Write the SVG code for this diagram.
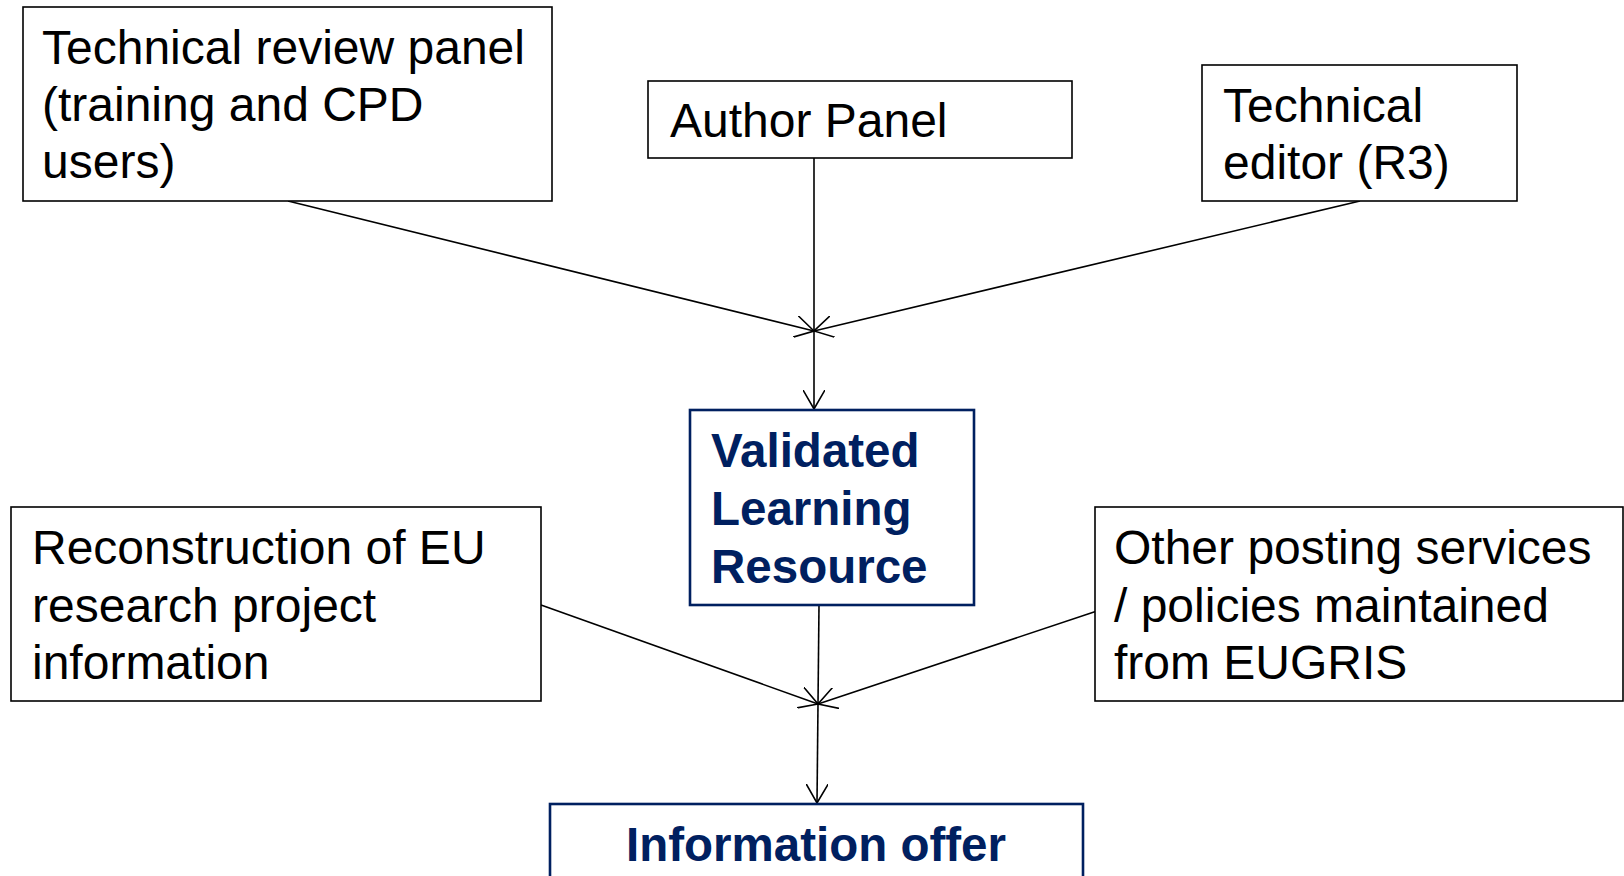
<svg xmlns="http://www.w3.org/2000/svg" width="1624" height="876" viewBox="0 0 1624 876">
<style>
.box{fill:#fff;stroke:#000;stroke-width:1.6}
.bbox{fill:#fff;stroke:#002060;stroke-width:2.6}
.t{font-family:"Liberation Sans",Arial,sans-serif;font-size:48px;fill:#000}
.b{font-family:"Liberation Sans",Arial,sans-serif;font-size:47.5px;font-weight:bold;fill:#002060}
.c{fill:none;stroke:#000;stroke-width:1.6}
</style>
<defs>
<marker id="arr" viewBox="0 0 20 22" refX="19" refY="11" markerWidth="20" markerHeight="22" markerUnits="userSpaceOnUse" orient="auto">
<path d="M0,0 L19,11 L0,22" fill="none" stroke="#000" stroke-width="1.6"/>
</marker>
</defs>
<rect width="1624" height="876" fill="#fff"/>
<g id="connectors">
<line class="c" x1="288" y1="201" x2="814" y2="331" marker-end="url(#arr)"/>
<line class="c" x1="1360" y1="201" x2="814" y2="331" marker-end="url(#arr)"/>
<line class="c" x1="814" y1="158" x2="814" y2="409" marker-end="url(#arr)"/>
<line class="c" x1="541" y1="605" x2="818" y2="704" marker-end="url(#arr)"/>
<line class="c" x1="1097" y1="611" x2="818" y2="704" marker-end="url(#arr)"/>
<line class="c" x1="819" y1="605" x2="817" y2="803" marker-end="url(#arr)"/>
</g>
<g id="technical-review-panel">
<rect class="box" x="23" y="7" width="529" height="194"/>
<text class="t" x="42" y="64">Technical review panel</text>
<text class="t" x="42" y="121">(training and CPD</text>
<text class="t" x="42" y="178">users)</text>
</g>
<g id="author-panel">
<rect class="box" x="648" y="81" width="424" height="77"/>
<text class="t" x="670" y="137">Author Panel</text>
</g>
<g id="technical-editor">
<rect class="box" x="1202" y="65" width="315" height="136"/>
<text class="t" x="1223" y="122">Technical</text>
<text class="t" x="1223" y="179">editor (R3)</text>
</g>
<g id="validated-learning-resource">
<rect class="bbox" x="690" y="410" width="284" height="195"/>
<text class="b" x="711" y="467">Validated</text>
<text class="b" x="711" y="525">Learning</text>
<text class="b" x="711" y="583">Resource</text>
</g>
<g id="reconstruction">
<rect class="box" x="11" y="507" width="530" height="194"/>
<text class="t" x="32" y="564">Reconstruction of EU</text>
<text class="t" x="32" y="622">research project</text>
<text class="t" x="32" y="679">information</text>
</g>
<g id="other-posting-services">
<rect class="box" x="1095" y="507" width="528" height="194"/>
<text class="t" x="1114" y="564">Other posting services</text>
<text class="t" x="1114" y="622">/ policies maintained</text>
<text class="t" x="1114" y="679">from EUGRIS</text>
</g>
<g id="information-offer">
<rect class="bbox" x="550" y="804" width="533" height="90"/>
<text class="b" x="816" y="861" text-anchor="middle">Information offer</text>
</g>
</svg>
